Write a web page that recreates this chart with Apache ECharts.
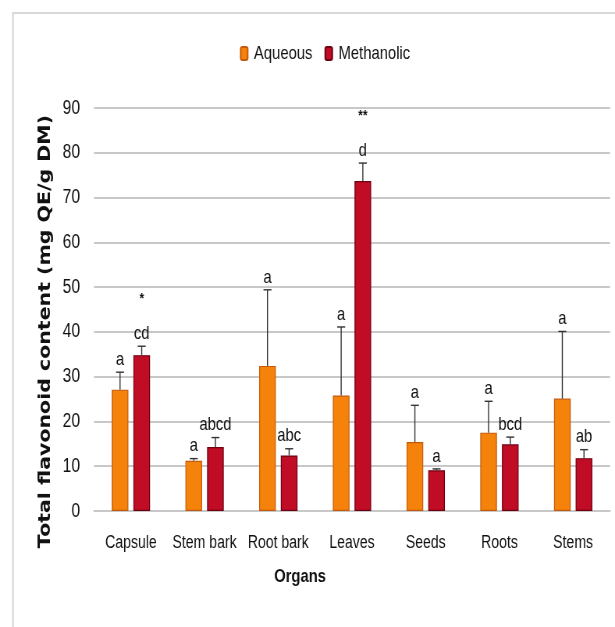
<!DOCTYPE html>
<html>
<head>
<meta charset="utf-8">
<title>Total flavonoid content by organ</title>
<script src="https://cdn.jsdelivr.net/npm/echarts@6/dist/echarts.min.js"></script>
<style>
  html, body { margin: 0; padding: 0; background: #ffffff; }
  #wrap { width: 615px; height: 627px; overflow: hidden; position: relative; }
  /* condensed rendering: draw wider, then squeeze horizontally */
  #chart { height: 627px; transform-origin: 0 0; }
</style>
</head>
<body>
<div id="wrap"><div id="chart"></div></div>
<script>
// Plant organs on the category axis
const organs = ['Capsule', 'Stem bark', 'Root bark', 'Leaves', 'Seeds', 'Roots', 'Stems'];

// Mean total flavonoid content (mg QE/g DM) and standard deviations
const aqueous = [27.1, 11.2, 32.4, 25.8, 15.4, 17.5, 25.1];
const aqueousSD = [3.9, 0.5, 17.0, 15.3, 8.2, 7.0, 15.0];
const methanolic = [34.8, 14.3, 12.4, 73.7, 9.1, 14.9, 11.8];
const methanolicSD = [2.0, 2.1, 1.5, 4.0, 0.3, 1.6, 1.9];

// Statistical grouping letters and significance marks
const aqueousLetters = ['a', 'a', 'a', 'a', 'a', 'a', 'a'];
const methanolicLetters = ['cd', 'abcd', 'abc', 'd', 'a', 'bcd', 'ab'];
const methanolicStars = ['*', '', '', '**', '', '', ''];

// Y-axis range
const yMin = 0, yMax = 90, yStep = 10;

// Horizontal squeeze factor for the condensed look
const VIEW_W = 615;
const DRAW_W = 788;
const S = VIEW_W / DRAW_W;
const hx = v => v / S;   // horizontal size in drawing units

const chartEl = document.getElementById('chart');
chartEl.style.width = DRAW_W + 'px';
chartEl.style.transform = 'scaleX(' + S + ')';

const FONT = '"Liberation Sans", Arial, sans-serif';
const CAT_GAP = 0.48;   // barCategoryGap fraction
const BAR_GAP = 0.30;   // barGap fraction of bar width

// Error bar + letter renderer; side = -1 for left bar, +1 for right bar
function makeErrorRenderer(side, letters, stars) {
  return function (params, api) {
    const i = api.value(0);
    const mean = api.value(1);
    const sd = api.value(2);
    const band = api.size([1, 0])[0];
    const barW = band * (1 - CAT_GAP) / (2 + BAR_GAP);
    const off = side * barW * (1 + BAR_GAP) / 2;
    const base = api.coord([i, mean]);
    const top = api.coord([i, mean + sd]);
    const x = base[0] + off;
    const cap = hx(4);
    const lineStyle = { stroke: '#333333', lineWidth: 1.4 };
    const children = [
      { type: 'line', shape: { x1: x, y1: base[1], x2: x, y2: top[1] }, style: lineStyle },
      { type: 'line', shape: { x1: x - cap, y1: top[1], x2: x + cap, y2: top[1] }, style: lineStyle },
      {
        type: 'text', x: x, y: top[1] - 3,
        style: { text: letters[i], fill: '#111', font: '19px ' + FONT, textAlign: 'center', textVerticalAlign: 'bottom' }
      }
    ];
    if (stars && stars[i]) {
      children.push({
        type: 'text', x: x, y: top[1] - 47,
        style: { text: stars[i], fill: '#111', font: 'bold 15px ' + FONT, textAlign: 'center', textVerticalAlign: 'middle' }
      });
    }
    return { type: 'group', children: children };
  };
}

const chart = echarts.init(chartEl, null, { renderer: 'canvas' });

chart.setOption({
  backgroundColor: '#ffffff',
  animation: false,
  textStyle: { fontFamily: FONT },
  graphic: [
    {
      type: 'rect', silent: true,
      shape: { x: hx(13), y: 13, width: 1200, height: 1200 },
      style: { fill: 'none', stroke: '#d8d8d8', lineWidth: 2.2 }
    }
  ],
  legend: {
    left: hx(236), top: 39,
    itemWidth: hx(7), itemHeight: 13, itemGap: hx(12),
    textStyle: { fontFamily: FONT, fontSize: 19, color: '#111', padding: [0, 0, 0, 3] },
    data: ['Aqueous', 'Methanolic']
  },
  grid: { left: hx(94), right: hx(5), top: 108, bottom: 116, containLabel: false },
  xAxis: {
    type: 'category',
    data: organs,
    name: 'Organs',
    nameLocation: 'middle',
    nameGap: 56,
    nameTextStyle: { fontFamily: FONT, fontSize: 19, fontWeight: 'bold', color: '#111', padding: [0, hx(104), 0, 0] },
    axisLine: { show: true, lineStyle: { color: '#c8c8c8', width: 1.8 } },
    axisTick: { show: false },
    axisLabel: { fontFamily: FONT, fontSize: 18, color: '#111', margin: 23, interval: 0 }
  },
  yAxis: {
    type: 'value',
    min: yMin, max: yMax, interval: yStep,
    name: 'Total flavonoid content (mg QE/g DM)',
    nameLocation: 'middle',
    nameGap: 43,
    nameTextStyle: {
      fontFamily: '"DejaVu Sans", sans-serif', fontSize: 20.5, fontWeight: 'bold', color: '#111',
      padding: [0, 44, 0, 0]
    },
    axisLine: { show: false },
    axisTick: { show: false },
    axisLabel: { fontFamily: FONT, fontSize: 20, color: '#111', margin: hx(14) },
    splitLine: { lineStyle: { color: '#c8c8c8', width: 1.8 } }
  },
  series: [
    {
      name: 'Aqueous', type: 'bar', data: aqueous,
      barCategoryGap: (CAT_GAP * 100) + '%', barGap: (BAR_GAP * 100) + '%',
      itemStyle: { color: '#f5820a', borderColor: '#c55a0b', borderWidth: 1.2 }
    },
    {
      name: 'Methanolic', type: 'bar', data: methanolic,
      barCategoryGap: (CAT_GAP * 100) + '%', barGap: (BAR_GAP * 100) + '%',
      itemStyle: { color: '#c00c24', borderColor: '#6e0010', borderWidth: 1.2 }
    },
    {
      name: 'Aqueous SD', type: 'custom', z: 5,
      renderItem: makeErrorRenderer(-1, aqueousLetters, null),
      data: aqueous.map((v, i) => [i, v, aqueousSD[i]]),
      encode: { x: 0, y: [1, 2] }
    },
    {
      name: 'Methanolic SD', type: 'custom', z: 5,
      renderItem: makeErrorRenderer(1, methanolicLetters, methanolicStars),
      data: methanolic.map((v, i) => [i, v, methanolicSD[i]]),
      encode: { x: 0, y: [1, 2] }
    }
  ]
});
</script>
</body>
</html>
